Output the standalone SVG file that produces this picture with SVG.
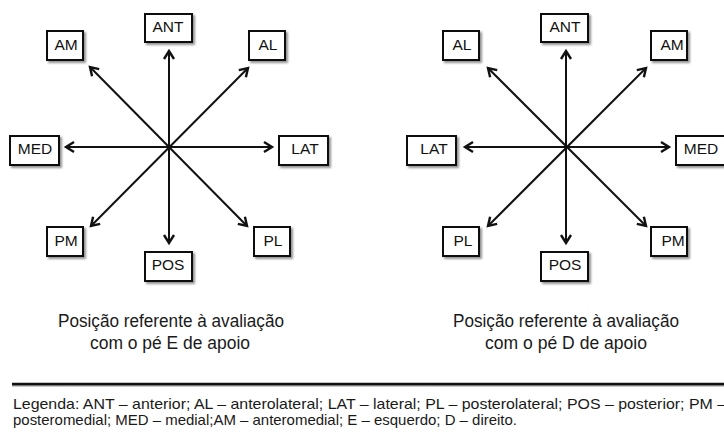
<svg xmlns="http://www.w3.org/2000/svg" width="724" height="435" viewBox="0 0 724 435">
<style>
.box{fill:#fff;stroke:#111;stroke-width:2;filter:url(#sh)}
.lbl{font-family:"Liberation Sans",Arial,sans-serif;font-size:15.5px;fill:#111;text-anchor:middle}
.cap{font-family:"Liberation Sans",Arial,sans-serif;font-size:17.5px;fill:#1a1a1a;text-anchor:middle}
.leg{font-family:"Liberation Sans",Arial,sans-serif;font-size:14.5px;fill:#1a1a1a}
.arr{stroke:#111;stroke-width:2;fill:none;marker-start:url(#ah);marker-end:url(#ah)}
</style>
<defs>
<filter id="sh" x="-20%" y="-20%" width="150%" height="150%">
<feDropShadow dx="2" dy="2" stdDeviation="1" flood-color="#777" flood-opacity="0.8"/>
</filter>
<marker id="ah" markerUnits="userSpaceOnUse" markerWidth="16" markerHeight="16" viewBox="-11 -8 16 16" refX="0" refY="0" orient="auto-start-reverse">
<path d="M-8,-5 L0,0 L-8,5" fill="none" stroke="#111" stroke-width="2.4"/>
</marker>
</defs>
<rect width="724" height="435" fill="#fff"/>

<g id="connectors">
<line class="arr" x1="169" y1="243" x2="169" y2="51"/>
<line class="arr" x1="66" y1="147" x2="272" y2="147"/>
<line class="arr" x1="247" y1="226" x2="90" y2="67"/>
<line class="arr" x1="91" y1="226" x2="248" y2="68"/>
<line class="arr" x1="566" y1="243" x2="566" y2="51"/>
<line class="arr" x1="465" y1="147" x2="669" y2="147"/>
<line class="arr" x1="646" y1="226" x2="488" y2="68"/>
<line class="arr" x1="488" y1="226" x2="646" y2="68"/>
</g>

<g id="L-ANT"><rect class="box" x="145" y="14" width="47" height="28"/><text class="lbl" x="168" y="32">ANT</text></g>
<g id="L-AM"><rect class="box" x="47" y="31" width="36" height="29"/><text class="lbl" x="66" y="50">AM</text></g>
<g id="L-AL"><rect class="box" x="249" y="31" width="36" height="29"/><text class="lbl" x="268" y="50">AL</text></g>
<g id="L-MED"><rect class="box" x="10" y="136" width="49" height="29"/><text class="lbl" x="35" y="154">MED</text></g>
<g id="L-LAT"><rect class="box" x="279" y="136" width="49" height="29"/><text class="lbl" x="305" y="154">LAT</text></g>
<g id="L-PM"><rect class="box" x="47" y="227" width="36" height="29"/><text class="lbl" x="66" y="246">PM</text></g>
<g id="L-PL"><rect class="box" x="254" y="227" width="36" height="29"/><text class="lbl" x="273" y="246">PL</text></g>
<g id="L-POS"><rect class="box" x="145" y="252" width="47" height="29"/><text class="lbl" x="168" y="270">POS</text></g>

<g id="R-ANT"><rect class="box" x="541" y="14" width="47" height="28"/><text class="lbl" x="565" y="32">ANT</text></g>
<g id="R-AL"><rect class="box" x="443" y="31" width="36" height="29"/><text class="lbl" x="462" y="50">AL</text></g>
<g id="R-AM"><rect class="box" x="651" y="31" width="36" height="29"/><text class="lbl" x="672" y="50">AM</text></g>
<g id="R-LAT"><rect class="box" x="407" y="136" width="49" height="29"/><text class="lbl" x="434" y="154">LAT</text></g>
<g id="R-MED"><rect class="box" x="676" y="136" width="50" height="29"/><text class="lbl" x="701" y="154">MED</text></g>
<g id="R-PL"><rect class="box" x="443" y="227" width="36" height="29"/><text class="lbl" x="463" y="246">PL</text></g>
<g id="R-PM"><rect class="box" x="651" y="227" width="36" height="29"/><text class="lbl" x="673" y="246">PM</text></g>
<g id="R-POS"><rect class="box" x="541" y="252" width="47" height="29"/><text class="lbl" x="565" y="270">POS</text></g>

<g id="captions">
<text class="cap" x="171" y="327" textLength="226" lengthAdjust="spacingAndGlyphs">Posição referente à avaliação</text>
<text class="cap" x="170" y="349" textLength="160" lengthAdjust="spacingAndGlyphs">com o pé E de apoio</text>
<text class="cap" x="566" y="327" textLength="226" lengthAdjust="spacingAndGlyphs">Posição referente à avaliação</text>
<text class="cap" x="566" y="349" textLength="162" lengthAdjust="spacingAndGlyphs">com o pé D de apoio</text>
</g>

<g id="legend">
<line x1="12" y1="385.5" x2="724" y2="385.5" stroke="#999" stroke-width="2"/>
<line x1="12" y1="384" x2="724" y2="384" stroke="#111" stroke-width="2.5"/>
<text class="leg" x="13" y="409" textLength="713" lengthAdjust="spacingAndGlyphs">Legenda: ANT – anterior; AL – anterolateral; LAT – lateral; PL – posterolateral; POS – posterior; PM –</text>
<text class="leg" x="13" y="425" textLength="504" lengthAdjust="spacingAndGlyphs">posteromedial; MED – medial;AM – anteromedial; E – esquerdo; D – direito.</text>
</g>
</svg>
